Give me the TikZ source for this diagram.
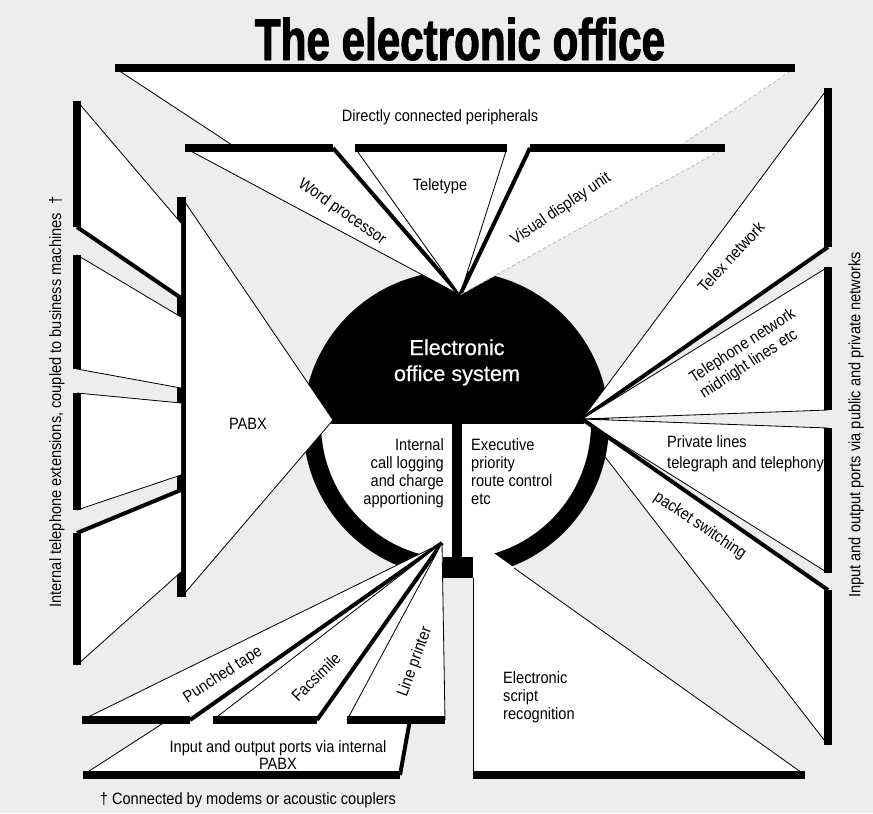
\documentclass[tikz,border=0pt]{standalone}
\usepackage{fontspec}
\setmainfont{Liberation Sans}
\newfontfamily\labfont[FakeStretch=0.89]{Liberation Sans}
\newfontfamily\titlefont[FakeStretch=0.72,FakeBold=1.6]{Liberation Sans}
\newfontfamily\blobfont[FakeBold=0.5]{Liberation Sans}
\usetikzlibrary{calc}
\definecolor{paper}{RGB}{237,237,237}
\tikzset{
  wedge/.style={fill=white,draw=none},
  thinedge/.style={line width=0.7pt,draw=black},
  faintedge/.style={line width=0.6pt,draw=black!30,densely dashed},
  thickedge/.style={line width=3.4pt,draw=black,line cap=butt},
  barline/.style={line width=6.4pt,draw=black,line cap=butt},
  lab/.style={font=\labfont\fontsize{14}{16}\selectfont,inner sep=0pt,text=black},
}
\begin{document}
\begin{tikzpicture}[x=0.03cm,y=-0.03cm]
\fill[paper] (0,0) rectangle (873,813);
\useasboundingbox (0,0) rectangle (873,813);
\coordinate (A) at (460,295);
\coordinate (B) at (582,419);
\coordinate (D) at (442,543);
\coordinate (C) at (456,424);

% ---- top fan: directly connected peripherals
\coordinate (T1) at (115,68);
\coordinate (T2) at (795,68);
\fill[wedge] (T1) -- (T2) -- (A) -- cycle;
\draw[thinedge] (T1) -- (A);
\draw[faintedge] (T2) -- (A);
\draw[barline] (T1) -- (T2);

% ---- central disc
\fill[black] plot[domain=180:360,samples=90] ({456+153*cos(\x)},{424+153*sin(\x)}) -- cycle;
\fill[white] plot[domain=0:180,samples=90] ({456+153*cos(\x)},{424+153*sin(\x)}) -- cycle;

% ---- packet switching wedge (under ring)
\coordinate (P1) at (828,590);
\coordinate (P2) at (828,745);
\coordinate (P3) at (592,440);
\fill[wedge] (B) -- (P1) -- (P2) -- (P3) -- cycle;
\draw[thinedge] (P2) -- (P3);
\draw[barline] (P1) -- (P2);

% ---- ring
\fill[black] plot[domain=180:100,samples=60] ({456+153*cos(\x)},{424+153*sin(\x)})
  -- plot[domain=100:180,samples=60] ({456+135*cos(\x)},{424+135*sin(\x)}) -- cycle;
\fill[black] plot[domain=0:80,samples=60] ({456+153*cos(\x)},{424+153*sin(\x)})
  -- plot[domain=80:0,samples=60] ({456+135*cos(\x)},{424+135*sin(\x)}) -- cycle;

% ---- electronic script recognition
\coordinate (E1) at (473,552);
\coordinate (E2) at (473,775);
\coordinate (E3) at (805,775);
\coordinate (E4) at (488,549);
\coordinate (E5) at (514,568);
\coordinate (E6) at (473,578);
\fill[wedge] (E1) -- (E2) -- (E3) -- (E4) -- cycle;
\draw[thinedge] (E3) -- (E5);
\draw[thinedge] (E6) -- (E2);
\draw[barline] (E2) -- (E3);

% ---- stem and square
\fill[black] (452,424) rectangle (462,557);
\fill[black] (443,557) rectangle (473,578);

% ---- D fans
\coordinate (O1) at (83,775);
\coordinate (O2) at (400,775);
\coordinate (O3) at (409.6,722);
\fill[wedge] (D) -- (O1) -- (O2) -- cycle;
\draw[thinedge] (O1) -- (D);
\draw[thickedge] (O2) -- (O3);
\draw[barline] (O1) -- (O2);
\coordinate (PT1) at (82,720);
\coordinate (PT2) at (190,720);
\fill[wedge] (PT1) -- (PT2) -- (D) -- cycle;
\draw[thinedge] (PT1) -- (D);
\draw[thickedge] (PT2) -- (D);
\draw[barline] (PT1) -- (PT2);
\coordinate (FX1) at (213,720);
\coordinate (FX2) at (317,720);
\fill[wedge] (FX1) -- (FX2) -- (D) -- cycle;
\draw[thinedge] (FX1) -- (D);
\draw[thickedge] (FX2) -- (D);
\draw[barline] (FX1) -- (FX2);
\coordinate (LP1) at (347,720);
\coordinate (LP2) at (445,720);
\fill[wedge] (LP1) -- (LP2) -- (D) -- cycle;
\draw[thinedge] (LP1) -- (D);
\draw[thinedge] (LP2) -- (D);
\draw[barline] (LP1) -- (LP2);

% ---- A fans
\coordinate (W1) at (185,148);
\coordinate (W2) at (333,148);
\fill[wedge] (W1) -- (W2) -- (A) -- cycle;
\draw[thinedge] (W1) -- (A);
\draw[thickedge] (W2) -- (A);
\draw[barline] (W1) -- (W2);
\coordinate (TT1) at (355,148);
\coordinate (TT2) at (507,148);
\fill[wedge] (TT1) -- (TT2) -- (A) -- cycle;
\draw[thinedge] (TT1) -- (A);
\draw[thinedge] (TT2) -- (A);
\draw[barline] (TT1) -- (TT2);
\coordinate (V1) at (530,148);
\coordinate (V2) at (725,148);
\fill[wedge] (V1) -- (V2) -- (A) -- cycle;
\draw[thickedge] (V1) -- (A);
\draw[faintedge] (V2) -- (A);
\draw[barline] (V1) -- (V2);

% ---- PABX
\coordinate (X1) at (181.5,197);
\coordinate (X2) at (333,420);
\coordinate (X3) at (181.5,597);
\fill[wedge] (X1) -- (X2) -- (X3) -- cycle;
\draw[thinedge] (X1) -- (X2) -- (X3);
\draw[line width=7.6pt,line cap=butt] (X1) -- (X3);

% ---- left boxes
\coordinate (L1a) at (77,101); \coordinate (L1b) at (181,223);
\coordinate (L1c) at (181,298); \coordinate (L1d) at (77,227);
\fill[wedge] (L1a) -- (L1b) -- (L1c) -- (L1d) -- cycle;
\draw[thinedge] (L1a) -- (L1b);
\draw[thickedge] (L1d) -- (L1c);
\draw[barline] (L1a) -- (L1d);
\coordinate (L2a) at (77,255); \coordinate (L2b) at (181,317);
\coordinate (L2c) at (181,388); \coordinate (L2d) at (77,369);
\fill[wedge] (L2a) -- (L2b) -- (L2c) -- (L2d) -- cycle;
\draw[thinedge] (L2a) -- (L2b);
\draw[thinedge] (L2d) -- (L2c);
\draw[barline] (L2a) -- (L2d);
\coordinate (L3a) at (77,393); \coordinate (L3b) at (181,403);
\coordinate (L3c) at (181,475); \coordinate (L3d) at (77,510);
\fill[wedge] (L3a) -- (L3b) -- (L3c) -- (L3d) -- cycle;
\draw[thinedge] (L3a) -- (L3b);
\draw[thinedge] (L3d) -- (L3c);
\draw[barline] (L3a) -- (L3d);
\coordinate (L4a) at (77,533); \coordinate (L4b) at (181,490);
\coordinate (L4c) at (181,572); \coordinate (L4d) at (77,665);
\fill[wedge] (L4a) -- (L4b) -- (L4c) -- (L4d) -- cycle;
\draw[thickedge] (L4a) -- (L4b);
\draw[thinedge] (L4d) -- (L4c);
\draw[barline] (L4a) -- (L4d);

% ---- B fans
\coordinate (R1a) at (828,88); \coordinate (R1b) at (828,247);
\fill[wedge] (R1a) -- (R1b) -- (B) -- cycle;
\draw[thinedge] (R1a) -- (B);
\draw[thickedge] (R1b) -- (B);
\draw[barline] (R1a) -- (R1b);
\coordinate (R2a) at (828,267); \coordinate (R2b) at (828,410);
\fill[wedge] (R2a) -- (R2b) -- (B) -- cycle;
\draw[thinedge] (R2a) -- (B) -- (R2b);
\draw[barline] (R2a) -- (R2b);
\coordinate (R3a) at (828,428); \coordinate (R3b) at (828,573);
\fill[wedge] (R3a) -- (R3b) -- (B) -- cycle;
\draw[thinedge] (R3a) -- (B) -- (R3b);
\draw[barline] (R3a) -- (R3b);
\draw[thickedge] (P1) -- (B);

% ---- texts
\node[font=\titlefont\bfseries\fontsize{50}{50}\selectfont,anchor=base,inner sep=0pt] (title) at (460,60) {The electronic office};
\node[lab,anchor=base] (tDCP) at (440,121) {Directly connected peripherals};
\node[lab,anchor=base] (tTT) at (440,190) {Teletype};
\node[lab,rotate=-35] (tWP) at (342,212) {Word processor};
\node[lab,rotate=34] (tVDU) at (561,209) {Visual display unit};
\node[lab,rotate=47] (tTX) at (731,257) {Telex network};
\node[lab,rotate=33,align=left] (tTN) at (748,354) {Telephone network\\midnight lines etc};
\node[lab,anchor=base west] (tPL1) at (667,447) {Private lines};
\node[lab,anchor=base west] (tPL2) at (667,468) {telegraph and telephony};
\node[lab,rotate=-34] (tPS) at (700,526) {packet switching};
\node[lab,anchor=base west] (tER1) at (503,683) {Electronic};
\node[lab,anchor=base west] (tER2) at (503,701) {script};
\node[lab,anchor=base west] (tER3) at (503,719) {recognition};
\node[lab,anchor=base west] (tEX1) at (471,450) {Executive};
\node[lab,anchor=base west] (tEX2) at (471,468) {priority};
\node[lab,anchor=base west] (tEX3) at (471,486) {route control};
\node[lab,anchor=base west] (tEX4) at (471,504) {etc};
\node[lab,anchor=base east] (tIC1) at (444,450) {Internal};
\node[lab,anchor=base east] (tIC2) at (444,468) {call logging};
\node[lab,anchor=base east] (tIC3) at (444,486) {and charge};
\node[lab,anchor=base east] (tIC4) at (444,504) {apportioning};
\node[lab,anchor=base] (tPABX) at (248,429) {PABX};
\node[lab,rotate=33] (tPT) at (223,675) {Punched tape};
\node[lab,rotate=45] (tFX) at (316,677) {Facsimile};
\node[lab,rotate=70] (tLP) at (415,662) {Line printer};
\node[lab,anchor=base] (tIO1) at (278,752) {Input and output ports via internal};
\node[lab,anchor=base] (tIO2) at (278,769) {PABX};
\node[lab,anchor=base] (tFoot) at (248,804) {† Connected by modems or acoustic couplers};
\node[lab,rotate=90] (tLeft) at (57,402) {Internal telephone extensions, coupled to business machines\enspace†};
\node[lab,rotate=90] (tRight) at (856,425) {Input and output ports via public and private networks};
\node[font=\blobfont\fontsize{18.5}{20}\selectfont,text=white,anchor=base,inner sep=0pt] (tEO1) at (457,355) {Electronic};
\node[font=\blobfont\fontsize{18.5}{20}\selectfont,text=white,anchor=base,inner sep=0pt] (tEO2) at (457,381) {office system};
\end{tikzpicture}
\end{document}
